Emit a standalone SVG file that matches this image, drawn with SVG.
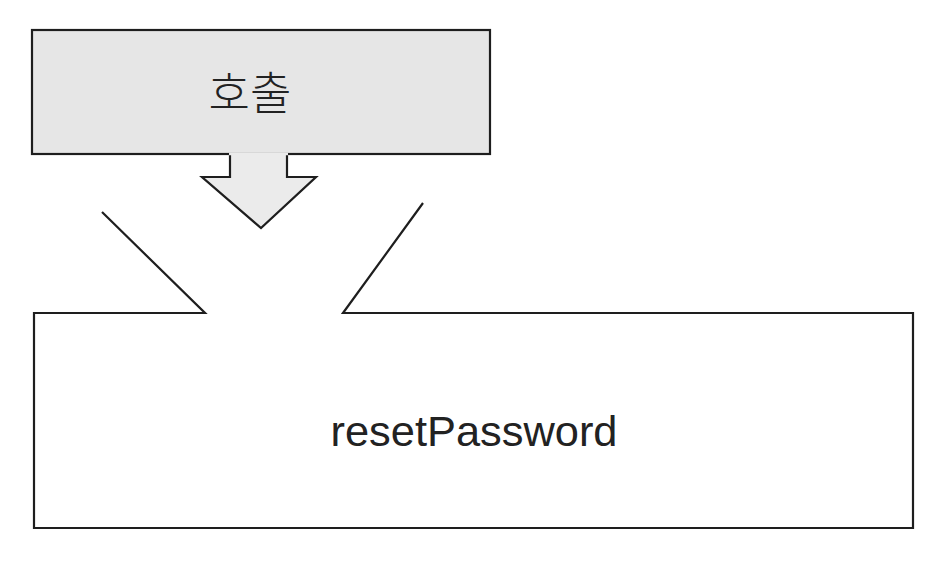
<svg xmlns="http://www.w3.org/2000/svg" width="942" height="574" viewBox="0 0 942 574">
<style>
.outline{stroke:#1e1e1e;stroke-width:2.2;stroke-linejoin:miter;fill:none}
.grey{fill:#e6e6e6}
.lbl{font-family:"Liberation Sans","Noto Sans CJK KR",sans-serif;fill:#222;text-anchor:middle}
</style>
<rect width="942" height="574" fill="#ffffff"/>
<g id="call">
<rect x="32" y="30" width="458" height="124" class="outline grey"/>
<text x="250" y="110" class="lbl" font-size="45" font-weight="300">호출</text>
</g>
<g id="connectors">
<path d="M230,154 L230,177 L202,177 L261,228 L316,177 L287,177 L287,154" class="outline" style="fill:#ebebeb"/>
<line x1="229" y1="154" x2="288" y2="154" stroke="#ebebeb" stroke-width="2.4"/>
</g>
<g id="resetPassword">
<path d="M102,212 L205,313 L34,313 L34,528 L913,528 L913,313 L343,313 L423,203" class="outline"/>
<text x="474" y="446" class="lbl" font-size="42" textLength="287" lengthAdjust="spacingAndGlyphs">resetPassword</text>
</g>
</svg>
